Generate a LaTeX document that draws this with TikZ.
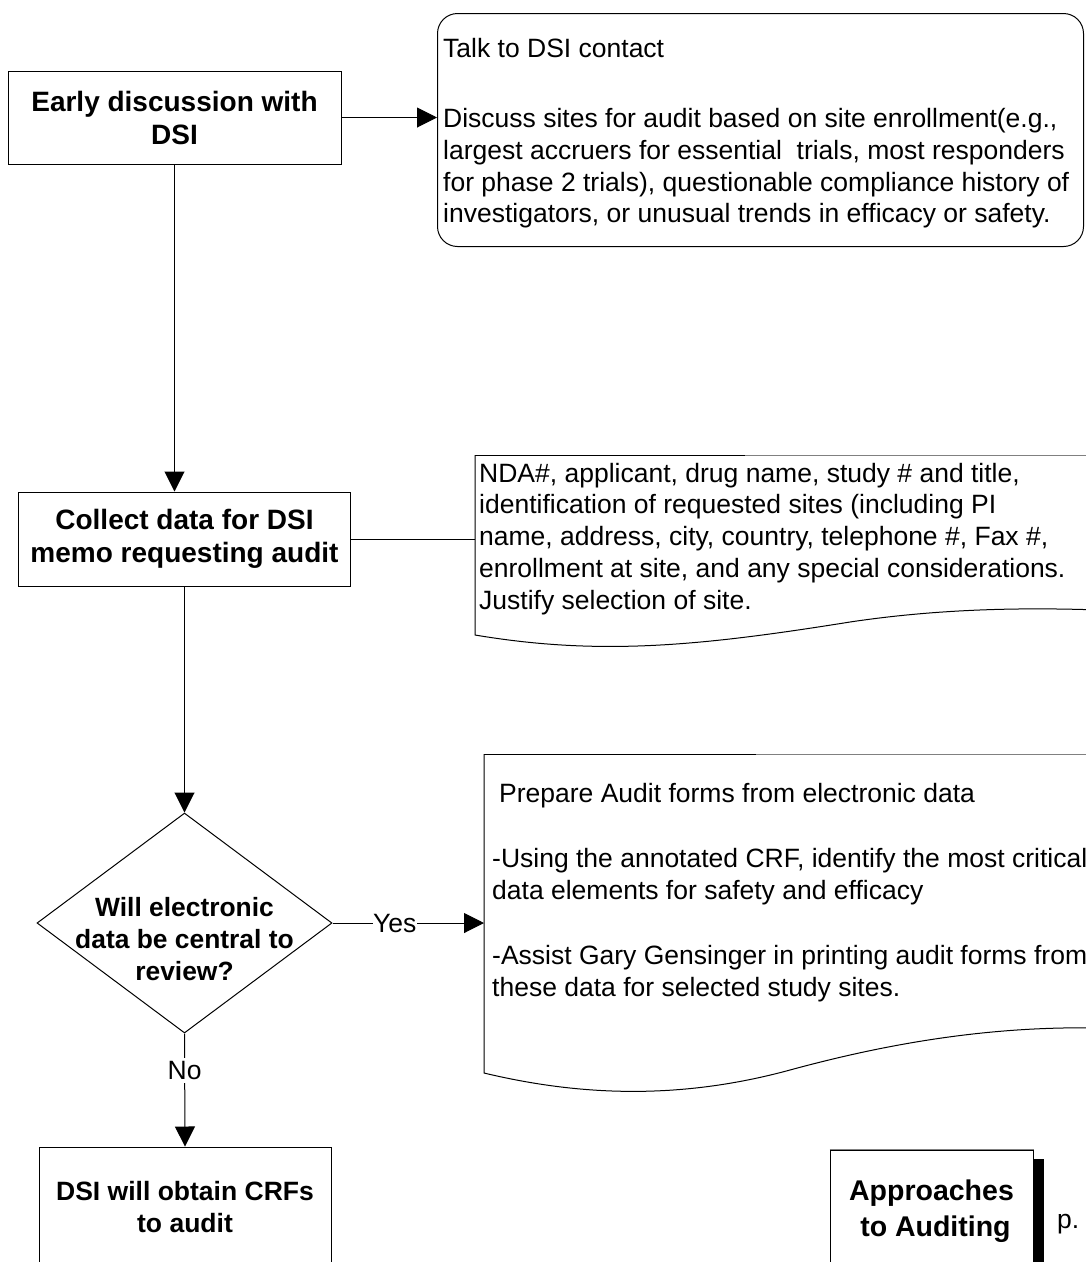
\documentclass[tikz,border=0pt]{standalone}
\usepackage{fontspec}
\setmainfont{Liberation Sans}
\usetikzlibrary{arrows.meta,shapes.geometric}
\begin{document}
\begin{tikzpicture}[x=1pt,y=-1pt,
	box/.style={draw, line width=1pt, align=center, inner sep=0pt, font=\bfseries\fontsize{28}{33}\selectfont},
	txt/.style={anchor=north west, inner sep=0pt, align=left, font=\fontsize{26.5}{31.7}\selectfont},
	flow/.style={line width=1pt, -{Triangle[length=20pt,width=20pt]}},
	lbl/.style={fill=white, font=\fontsize{26.5}{31.7}\selectfont},
	edge/.style={line width=1pt}]
	\useasboundingbox (0,0) rectangle (1086,1262);
	\clip (0,0) rectangle (1086,1262);
	\node[box, minimum width=333pt, minimum height=93pt] (early) at (174.5,117.5) {Early discussion with\\DSI};
	\node[draw, line width=1pt, rounded corners=20pt, minimum width=646pt, minimum height=233pt, anchor=north west] (talk) at (437,13) {};
	\node[txt] (talktext) at (443,34.8) {\strut Talk to DSI contact\\[39pt]Discuss sites for audit based on site enrollment(e.g.,\\largest accruers for essential~ trials, most responders\\for phase 2 trials), questionable compliance history of\\investigators, or unusual trends in efficacy or safety.};
	\draw[flow] (early.east) -- (early.east -| talk.west);
	\coordinate (nda) at (475,455);
	\draw[edge] (nda) -- (745,455);
	\draw[edge, gray] (745,455) -- (1100,455);
	\draw[edge] (nda) -- (475,635) .. controls (600,656) and (700,646) .. (850,622) .. controls (950,607) and (1040,608) .. (1100,610);
	\node[txt] (ndatext) at (479,459.8) {\strut NDA\#, applicant, drug name, study \# and title,\\identification of requested sites (including PI\\name, address, city, country, telephone \#, Fax \#,\\enrollment at site, and any special considerations.\\Justify selection of site.};
	\node[box, minimum width=332pt, minimum height=94pt] (collect) at (184.5,539) {Collect data for DSI\\memo requesting audit};
	\draw[flow] (early.south) -- (early.south |- collect.north);
	\draw[edge] (collect.east) -- (collect.east -| nda);
	\node[draw, line width=1pt, diamond, minimum width=295pt, minimum height=220pt, inner sep=0pt] (dec) at (184.5,923) {};
	\node[align=center, font=\bfseries\fontsize{26.4}{32}\selectfont] (dectext) at (184.5,939) {Will electronic\\data be central to\\review?};
	\draw[flow] (collect.south) -- (dec.north);
	\coordinate (prep) at (484,754);
	\draw[edge] (prep) -- (756,754);
	\draw[edge, gray] (756,754) -- (1100,754);
	\draw[edge] (prep) -- (484,1073) .. controls (580,1096) and (680,1100) .. (790,1070) .. controls (900,1040) and (1000,1026) .. (1100,1028);
	\node[txt] (preptext) at (492,779.8) {\strut\hspace*{7pt}Prepare Audit forms from electronic data\\[34pt]-Using the annotated CRF, identify the most critical\\data elements for safety and efficacy\\[33pt]-Assist Gary Gensinger in printing audit forms from\\these data for selected study sites.};
	\draw[flow] (dec.east) -- node[lbl, pos=0.41, inner sep=0.5pt] (yes) {Yes} (dec.east -| prep);
	\node[box, minimum width=292pt, minimum height=120pt, font=\bfseries\fontsize{26.5}{32}\selectfont] (crf) at (185,1207) {DSI will obtain CRFs\\to audit};
	\draw[flow] (dec.south) -- node[lbl, pos=0.33] (no) {No} (crf.north);
	\node[box, minimum width=203pt, minimum height=122pt, font=\bfseries\fontsize{28.5}{36}\selectfont] (appr) at (931.5,1211) {Approaches\\\ to Auditing};
	\draw[line width=1.5pt, gray] (appr.north west) -- (appr.north east);
	\fill ([yshift=-9pt]appr.north east) rectangle ([xshift=10pt]appr.south east);
	\node[anchor=base west, inner sep=0pt, font=\fontsize{26.5}{31.7}\selectfont] (page) at (1057,1228) {p.};
\end{tikzpicture}
\end{document}
